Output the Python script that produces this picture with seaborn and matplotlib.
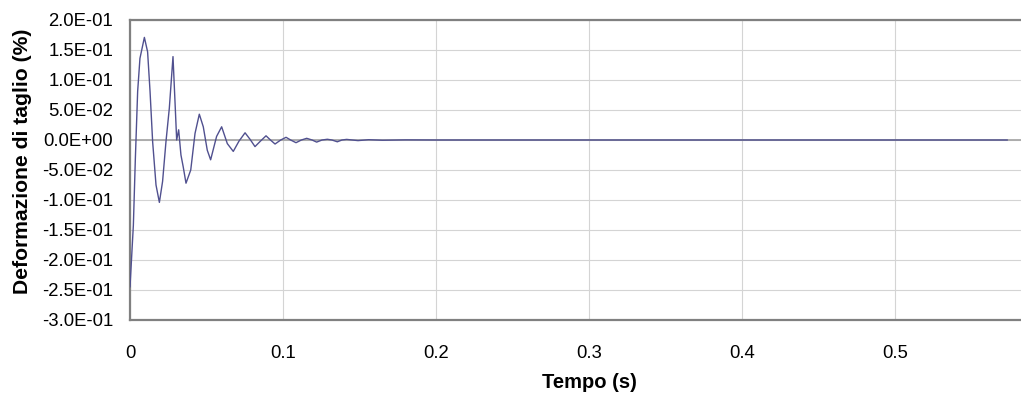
import matplotlib
matplotlib.use("Agg")
import matplotlib.pyplot as plt
import matplotlib.ticker as mticker
import seaborn as sns
import pandas as pd

# values
tempo = [0.0, 0.0022, 0.0035, 0.005, 0.0065, 0.0094, 0.0115, 0.0131, 0.0148,
         0.017, 0.0192, 0.0213, 0.0235, 0.0257, 0.0281, 0.0296, 0.0305, 0.0318,
         0.0333, 0.0348, 0.0366, 0.0397, 0.0425, 0.0453, 0.0479, 0.0505, 0.0527,
         0.0566, 0.0599, 0.0636, 0.0675, 0.0712, 0.0752, 0.0785, 0.0817, 0.0852,
         0.0889, 0.0918, 0.0948, 0.0985, 0.102, 0.105, 0.1085, 0.112, 0.1155,
         0.119, 0.122, 0.1255, 0.129, 0.132, 0.1355, 0.1385, 0.1416, 0.149,
         0.156, 0.165, 0.18, 0.2, 0.25, 0.3, 0.4, 0.5, 0.5735]
deformazione = [-0.245, -0.142, -0.031, 0.081, 0.136, 0.171, 0.147, 0.081, -0.003,
                -0.075, -0.104, -0.069, -0.003, 0.053, 0.139, 0.053, 0.0, 0.017,
                -0.025, -0.045, -0.072, -0.05, 0.011, 0.043, 0.022, -0.017, -0.033,
                0.006, 0.022, -0.006, -0.019, -0.002, 0.012, 0.001, -0.011, -0.002,
                0.007, 0.0, -0.0067, 0.0, 0.0045, 0.0, -0.0045, 0.0, 0.0028,
                0.0, -0.0035, 0.0, 0.0012, 0.0, -0.003, 0.0, 0.001, -0.001,
                0.0005, -0.0004, 0.0002, 0.0, 0.0, 0.0, 0.0, 0.0, 0.0]
y_ticks = [0.2, 0.15, 0.1, 0.05, 0.0, -0.05, -0.1, -0.15, -0.2, -0.25, -0.3]
x_ticks = [0.0, 0.1, 0.2, 0.3, 0.4, 0.5]

df = pd.DataFrame({"Tempo": tempo, "Deformazione": deformazione})

sns.set_style("white")
plt.rcParams["font.family"] = ["Liberation Sans", "DejaVu Sans"]
plt.rcParams["text.color"] = "black"
plt.rcParams["axes.labelcolor"] = "black"
plt.rcParams["xtick.color"] = "black"
plt.rcParams["ytick.color"] = "black"

fig = plt.figure(figsize=(10.21, 3.94), dpi=100)
ax = fig.add_axes([130 / 1021, 1 - 320 / 394, 918 / 1021, 300 / 394])

ax.set_xlim(0, 0.6)
ax.set_ylim(-0.3, 0.2)
ax.set_yticks(y_ticks)
ax.set_xticks(x_ticks)
ax.grid(True, color="#d4d4d4", linewidth=0.8)
ax.set_axisbelow(True)
ax.axhline(0, color="#a8a8a8", linewidth=1.3, zorder=1)

sns.lineplot(data=df, x="Tempo", y="Deformazione", ax=ax, sort=False,
             estimator=None, color="#50508f", linewidth=1.0, zorder=3)

ax.yaxis.set_major_formatter(mticker.FuncFormatter(lambda v, p: f"{v:.1E}"))
ax.xaxis.set_major_formatter(mticker.FuncFormatter(lambda v, p: "0" if v == 0 else f"{v:.1f}"))
ax.tick_params(axis="both", length=0, labelsize=13.3)
ax.tick_params(axis="y", pad=12)
ax.tick_params(axis="x", pad=18)

for s in ax.spines.values():
    s.set_color("#808080")
    s.set_linewidth(1.6)

ax.set_xlabel("Tempo (s)", fontsize=14.5, fontweight="bold", labelpad=8)
ax.set_ylabel("Deformazione di taglio (%)", fontsize=15.2, fontweight="bold")
ax.yaxis.set_label_coords(-0.107, 0.53)

fig.savefig("out.png", dpi=100)
